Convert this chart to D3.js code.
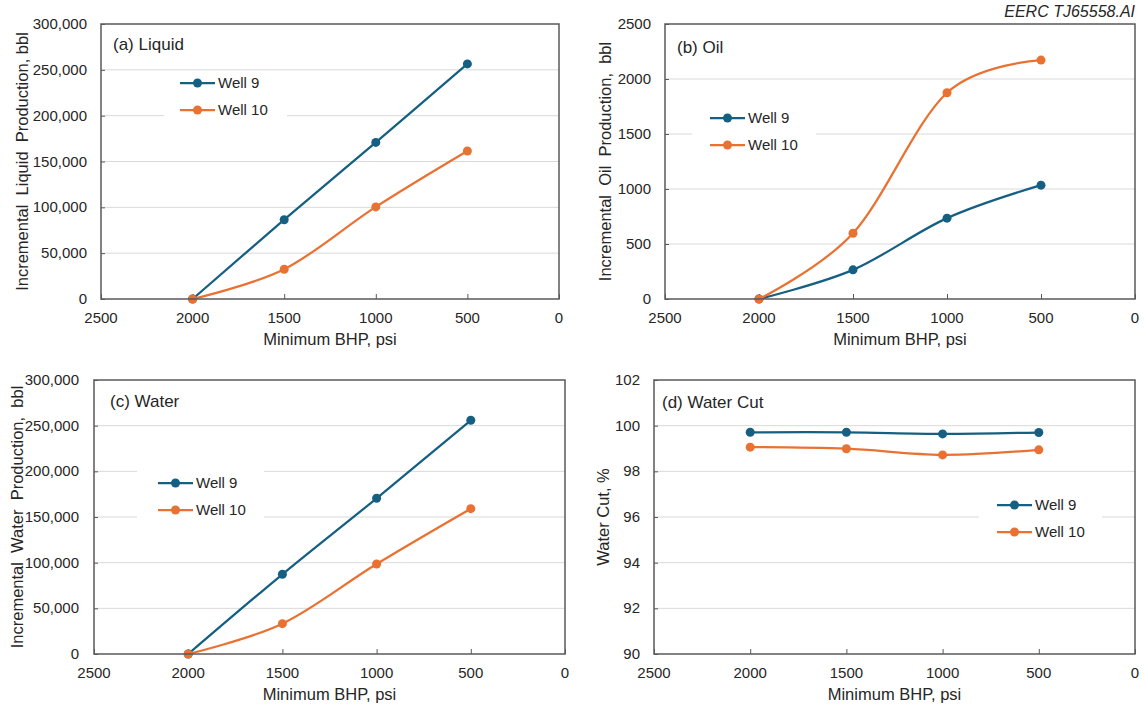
<!doctype html>
<html>
  <head>
    <meta charset="utf-8">
    <title>Incremental production vs minimum BHP</title>
    <script src="https://d3js.org/d3.v7.min.js"></script>
    <style type="text/css">
      body {
        margin: 0;
        background-color: #ffffff;
      }
      text {
        font-family: "Liberation Sans", Arial, sans-serif;
        fill: #262626;
      }
    </style>
  </head>
  <body>
    <script>
      // Data
      var bhp = [2000, 1500, 1000, 500];
      var seriesNames = ["Well 9", "Well 10"];
      var xTicks = [2500, 2000, 1500, 1000, 500, 0];

      var liquidWell9 = [0, 86500, 170800, 256500];
      var liquidWell10 = [0, 32500, 100500, 161500];
      var oilWell9 = [0, 265, 735, 1035];
      var oilWell10 = [0, 598, 1875, 2172];
      var waterWell9 = [0, 87300, 170500, 255900];
      var waterWell10 = [0, 33200, 98500, 159100];
      var cutWell9 = [99.71, 99.71, 99.64, 99.70];
      var cutWell10 = [99.06, 98.99, 98.72, 98.94];

      var liquidTicks = [0, 50000, 100000, 150000, 200000, 250000, 300000];
      var oilTicks = [0, 500, 1000, 1500, 2000, 2500];
      var cutTicks = [90, 92, 94, 96, 98, 100, 102];

      var colors = ["#156082", "#e97132"];

      //Width and height
      var w = 1144;
      var h = 707;

      var svg = d3.select("body")
        .append("svg")
        .attr("width", w)
        .attr("height", h);

      svg.append("text")
        .attr("x", 1135)
        .attr("y", 17)
        .attr("text-anchor", "end")
        .style("font-size", "16px")
        .style("font-style", "italic")
        .text("EERC TJ65558.AI");

      var panels = [
        { box: [101, 559, 24, 299], label: "(a) Liquid", labelPos: [113, 50],
          yTitle: "Incremental  Liquid  Production, bbl", yTitleX: 28,
          ticks: liquidTicks, fmt: d3.format(","), gap: 14,
          series: [liquidWell9, liquidWell10],
          legend: { x: 180, y: 83, box: [164, 287, 72, 122] } },
        { box: [665, 1135, 24, 299], label: "(b) Oil", labelPos: [677, 53],
          yTitle: "Incremental  Oil  Production,  bbl", yTitleX: 611,
          ticks: oilTicks, fmt: d3.format("d"), gap: 14,
          series: [oilWell9, oilWell10],
          legend: { x: 710, y: 118, box: [692, 816, 104, 158] } },
        { box: [94, 565, 380, 654], label: "(c) Water", labelPos: [110, 407],
          yTitle: "Incremental  Water  Production,  bbl", yTitleX: 23,
          ticks: liquidTicks, fmt: d3.format(","), gap: 15,
          series: [waterWell9, waterWell10],
          legend: { x: 158, y: 483, box: [137, 264, 466, 522] } },
        { box: [654, 1135, 380, 654], label: "(d) Water Cut", labelPos: [662, 408],
          yTitle: "Water Cut, %", yTitleX: 609,
          ticks: cutTicks, fmt: d3.format("d"), gap: 14,
          series: [cutWell9, cutWell10],
          legend: { x: 997, y: 505, box: [979, 1102, 492, 545] } }
      ];

      panels.forEach(function(p) {
        var left = p.box[0], right = p.box[1], top = p.box[2], bottom = p.box[3];
        var x = d3.scaleLinear().domain([2500, 0]).range([left, right]);
        var y = d3.scaleLinear()
          .domain([p.ticks[0], p.ticks[p.ticks.length - 1]])
          .range([bottom, top]);

        var g = svg.append("g");

        // gridlines
        g.selectAll("line.grid")
          .data(p.ticks.slice(1, -1))
          .enter()
          .append("line")
          .attr("x1", left)
          .attr("x2", right)
          .attr("y1", function(d) { return y(d); })
          .attr("y2", function(d) { return y(d); })
          .style("stroke", "#d9d9d9")
          .style("stroke-width", 1);

        // inside tick marks
        g.append("g")
          .attr("transform", "translate(" + left + ",0)")
          .call(d3.axisRight(y).tickValues(p.ticks).tickSize(4).tickFormat(""))
          .call(function(a) { a.select(".domain").remove(); })
          .selectAll("line").style("stroke", "#595959");
        g.append("g")
          .attr("transform", "translate(0," + bottom + ")")
          .call(d3.axisTop(x).tickValues(xTicks).tickSize(5).tickFormat(""))
          .call(function(a) { a.select(".domain").remove(); })
          .selectAll("line").style("stroke", "#595959");

        // tick labels
        g.selectAll("text.ytick")
          .data(p.ticks)
          .enter()
          .append("text")
          .attr("x", left - p.gap)
          .attr("y", function(d) { return y(d) + 5; })
          .attr("text-anchor", "end")
          .style("font-size", "15px")
          .text(p.fmt);
        g.selectAll("text.xtick")
          .data(xTicks)
          .enter()
          .append("text")
          .attr("x", function(d) { return x(d); })
          .attr("y", bottom + 24)
          .attr("text-anchor", "middle")
          .style("font-size", "15px")
          .text(function(d) { return d; });

        // axis titles
        g.append("text")
          .attr("x", (left + right) / 2)
          .attr("y", bottom + 46)
          .attr("text-anchor", "middle")
          .style("font-size", "16.5px")
          .text("Minimum BHP, psi");
        g.append("text")
          .attr("transform", "translate(" + p.yTitleX + "," + ((top + bottom) / 2) + ") rotate(-90)")
          .attr("text-anchor", "middle")
          .style("font-size", "16.5px")
          .style("white-space", "pre")
          .text(p.yTitle);

        // legend background
        var lg = p.legend;
        g.append("rect")
          .attr("x", lg.box[0])
          .attr("y", lg.box[2])
          .attr("width", lg.box[1] - lg.box[0])
          .attr("height", lg.box[3] - lg.box[2])
          .style("fill", "#ffffff");

        // series
        var line = d3.line()
          .x(function(d, i) { return x(bhp[i]); })
          .y(function(d) { return y(d); })
          .curve(d3.curveCatmullRom.alpha(0));

        p.series.forEach(function(vals, si) {
          g.append("path")
            .datum(vals)
            .attr("d", line)
            .style("fill", "none")
            .style("stroke", colors[si])
            .style("stroke-width", 2.25);
          g.selectAll("circle.s" + si)
            .data(vals)
            .enter()
            .append("circle")
            .attr("cx", function(d, i) { return x(bhp[i]); })
            .attr("cy", function(d) { return y(d); })
            .attr("r", 4.5)
            .style("fill", colors[si]);

          var ly = lg.y + si * 27;
          g.append("line")
            .attr("x1", lg.x)
            .attr("x2", lg.x + 35)
            .attr("y1", ly)
            .attr("y2", ly)
            .style("stroke", colors[si])
            .style("stroke-width", 2.25);
          g.append("circle")
            .attr("cx", lg.x + 17.5)
            .attr("cy", ly)
            .attr("r", 4.5)
            .style("fill", colors[si]);
          g.append("text")
            .attr("x", lg.x + 38)
            .attr("y", ly + 5)
            .style("font-size", "15px")
            .text(seriesNames[si]);
        });

        // frame
        g.append("rect")
          .attr("x", left)
          .attr("y", top)
          .attr("width", right - left)
          .attr("height", bottom - top)
          .style("fill", "none")
          .style("stroke", "#595959")
          .style("stroke-width", 1.5);

        // panel label
        g.append("text")
          .attr("x", p.labelPos[0])
          .attr("y", p.labelPos[1])
          .style("font-size", "17px")
          .text(p.label);
      });
    </script>
  </body>
</html>
